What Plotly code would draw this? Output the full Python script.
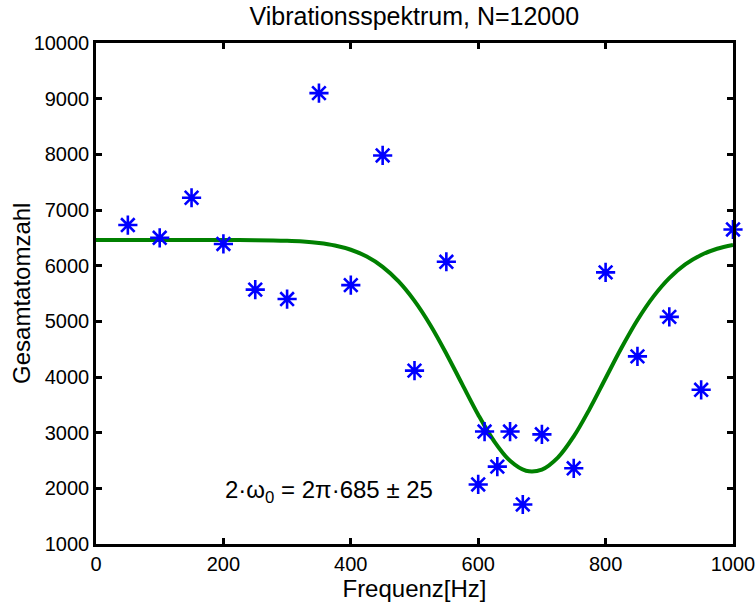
import plotly.graph_objects as go

# Measured data points (frequency in Hz, total atom count)
freq = [50, 100, 150, 200, 250, 300, 350, 400, 450, 500, 550,
        600, 610, 630, 650, 670, 700, 750, 800, 850, 900, 950, 1000]
counts = [6730, 6500, 7220, 6390, 5570, 5400, 9100, 5650, 7980, 4115, 6070,
          2070, 3020, 2390, 3020, 1710, 2970, 2360, 5880, 4370, 5080, 3770, 6650]

# Fit curve
fit_x = [0, 50, 100, 150, 200, 250, 300, 325, 350, 375, 400, 425, 450, 475,
         500, 525, 550, 575, 600, 625, 650, 675, 700, 725, 750, 775, 800,
         825, 850, 875, 900, 925, 950, 975, 1000]
fit_y = [6460, 6460, 6460, 6460, 6460, 6458, 6447, 6434, 6408, 6363, 6286,
         6163, 5979, 5717, 5367, 4930, 4419, 3867, 3323, 2846, 2494, 2316,
         2337, 2552, 2933, 3428, 3978, 4525, 5024, 5444, 5776, 6022, 6192,
         6304, 6374]

x_ticks = [0, 200, 400, 600, 800, 1000]
y_ticks = [1000, 2000, 3000, 4000, 5000, 6000, 7000, 8000, 9000, 10000]
y_tick_text = [str(v) for v in y_ticks]

title_text = "Vibrationsspektrum, N=12000"
x_label = "Frequenz[Hz]"
y_label = "Gesamtatomzahl"
note_text = "2·ω<sub>0</sub> = 2π·685 ± 25"

FONT = "Liberation Sans, Arial, Helvetica, sans-serif"

fig = go.Figure()
fig.add_trace(go.Scatter(
    x=fit_x, y=fit_y, mode="lines",
    line=dict(color="rgb(0,128,0)", width=4, shape="spline", smoothing=1.0),
    showlegend=False, hoverinfo="skip"))
fig.add_trace(go.Scatter(
    x=freq, y=counts, mode="markers",
    marker=dict(symbol="asterisk-open", size=16, color="rgb(0,0,255)",
                line=dict(color="rgb(0,0,255)", width=2.6)),
    cliponaxis=False, showlegend=False))

fig.add_annotation(
    x=199, y=1937, xref="x", yref="y", text=note_text, showarrow=False,
    xanchor="left", yanchor="middle",
    font=dict(family=FONT, size=24, color="black"))

# y-axis label placed as rotated text left of the tick labels
fig.add_annotation(
    x=-0.117, y=0.5, xref="paper", yref="paper", text=y_label,
    showarrow=False, textangle=-90, xanchor="center", yanchor="middle",
    font=dict(family=FONT, size=24, color="black"))

axis_common = dict(
    showgrid=False, zeroline=False, showline=True, linecolor="black",
    linewidth=2.5, mirror="ticks", ticks="inside", ticklen=6, tickwidth=2.5,
    tickcolor="black", automargin=False,
    tickfont=dict(family=FONT, size=20, color="black"))

fig.update_layout(
    width=756, height=603,
    margin=dict(l=96, r=23, t=43, b=59),
    paper_bgcolor="white", plot_bgcolor="white",
    title=dict(text=title_text, x=0.548, xanchor="center", y=0.973,
               yanchor="middle",
               font=dict(family=FONT, size=25, color="black")),
    xaxis=dict(range=[0, 1000], tickvals=x_ticks,
               title=dict(text=x_label, standoff=2,
                          font=dict(family=FONT, size=24, color="black")),
               **axis_common),
    yaxis=dict(range=[1000, 10000], tickvals=y_ticks, ticktext=y_tick_text,
               **axis_common),
)

fig.write_html("out.html")
